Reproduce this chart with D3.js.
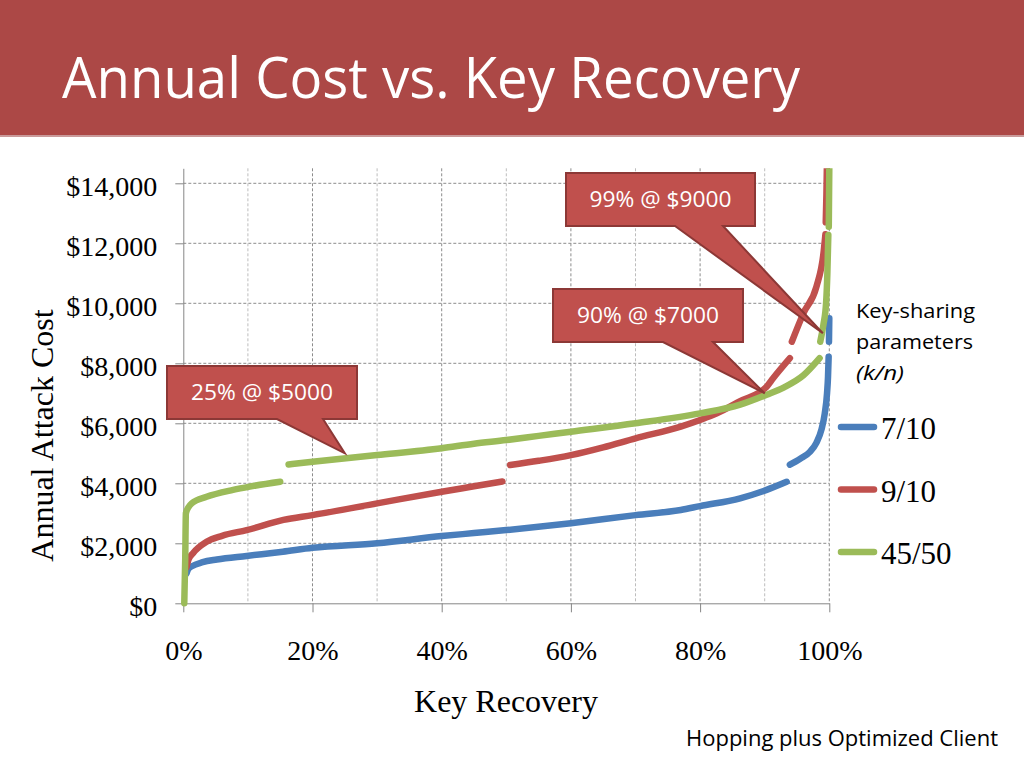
<!DOCTYPE html>
<html><head><meta charset="utf-8">
<script src="https://cdn.jsdelivr.net/npm/d3@7"></script>
<style>body{margin:0;background:#fff;} svg{display:block}</style>
</head><body><svg id="c" width="1024" height="768"></svg>
<script>
// ---------- DATA ----------
const seriesNames  = ["7/10", "9/10", "45/50"];
const seriesColors = ["#4A7EBB", "#C0504D", "#9BBB59"];

// Key recovery (%) and annual attack cost ($); null marks a break in the line
const recovery710 = [0.5,0.8,1.3,3,5.2,9.8,15.4,20,30,40,45,50,60,70,77,80,86.2,90.3,93.4, null, 93.9,95.5,97,98,98.8,99.3,99.65,99.8,99.9, null, 99.95,100];
const cost710     = [1000,1150,1230,1370,1460,1580,1720,1850,2000,2240,2340,2440,2670,2940,3110,3240,3500,3780,4050, null, 4620,4820,5050,5350,5800,6330,7000,7550,8220, null, 8720,9500];

const recovery910 = [0.5,0.8,1.5,3.6,6,9.8,15.5,20,30,40,45,49.4, null, 50.6,55,60,65,70,77,80,82.6,86.2,90.3,91.3,93.9, null, 94.2,96,98,99.1,99.4, null, 99.45,99.55,99.62];
const cost910     = [1200,1450,1670,2050,2250,2440,2780,2940,3330,3720,3900,4060, null, 4610,4750,4940,5200,5500,5890,6110,6330,6740,7220,7500,8170, null, 8720,9670,10550,11670,12300, null, 12700,13600,14500];

const recovery4550 = [0.15,0.3,0.4,0.8,1.3,3.6,7.7,10.3,15, null, 16.3,20,30,40,45,50,55,60,70,80,86.2,90.3,93,96,98.5, null, 98.6,99.1,99.5,99.7,99.85, null, 99.92,100];
const cost4550     = [0,1500,3000,3200,3330,3550,3780,3890,4050, null, 4630,4720,4940,5170,5320,5440,5580,5720,6000,6330,6620,6950,7200,7600,8170, null, 8720,9300,10000,11000,12280, null, 12550,14500];

const yTicks  = [0,2000,4000,6000,8000,10000,12000,14000];
const xTicks  = [0,20,40,60,80,100];
const xMinor  = [10,30,50,70,90];

const calloutLabels   = ["99% @ $9000", "90% @ $7000", "25% @ $5000"];
const calloutRecovery = [99, 90, 25];
const calloutCost     = [9000, 7000, 5000];

const titleText   = "Annual Cost vs. Key Recovery";
const yTitle      = "Annual Attack Cost";
const xTitle      = "Key Recovery";
const legendTitle = ["Key-sharing", "parameters", "(k/n)"];
const footerText  = "Hopping plus Optimized Client";

// ---------- LAYOUT ----------
const calloutBoxes = [ // x0, y0, x1, y1, wedge base left, wedge base right
  [566,173,755,226,675,723],
  [553,289,743,342,663,713],
  [167,366,357,419,277,323]
];
const SANS = "'Open Sans','Noto Sans',sans-serif";
const SERIF = "'Liberation Serif','Times New Roman',serif";

const svg = d3.select("#c");
const x = d3.scaleLinear().domain([0,100]).range([183.3, 829.3]);
const y = d3.scaleLinear().domain([0,14500]).range([603.3, 168.3]);

// header
svg.append("rect").attr("x",0).attr("y",0).attr("width",1024).attr("height",135).attr("fill","#AC4846");
svg.append("rect").attr("x",0).attr("y",135).attr("width",1024).attr("height",2).attr("fill","#C99A9A");
svg.append("text").attr("x",62).attr("y",98).attr("fill","#fff")
  .attr("font-family",SANS).attr("font-size",57)
  .attr("textLength",738).attr("lengthAdjust","spacingAndGlyphs").text(titleText);

// gridlines
const grid = svg.append("g");
grid.selectAll("line.h").data(yTicks.filter(d=>d>0)).join("line")
  .attr("x1",x(0)).attr("x2",x(100)).attr("y1",d=>y(d)).attr("y2",d=>y(d))
  .attr("stroke","#8C8C8C").attr("stroke-width",1).attr("stroke-dasharray","3,2");
grid.selectAll("line.vmin").data(xMinor).join("line")
  .attr("x1",d=>x(d)).attr("x2",d=>x(d)).attr("y1",y(14500)).attr("y2",y(0))
  .attr("stroke","#BDBDBD").attr("stroke-width",1).attr("stroke-dasharray","3,2");
grid.selectAll("line.vmaj").data(xTicks.filter(d=>d>0)).join("line")
  .attr("x1",d=>x(d)).attr("x2",d=>x(d)).attr("y1",y(14500)).attr("y2",y(0))
  .attr("stroke","#8C8C8C").attr("stroke-width",1).attr("stroke-dasharray","3,2");

// axes
const yAxis = svg.append("g").attr("transform",`translate(${x(0)},0)`)
  .call(d3.axisLeft(y).tickValues(yTicks).tickFormat(d=>"$"+d3.format(",")(d)).tickSize(8).tickSizeOuter(0).tickPadding(18));
yAxis.select(".domain").attr("stroke","#868686");
yAxis.selectAll(".tick line").attr("stroke","#868686");
yAxis.selectAll("text").attr("font-family",SERIF).attr("font-size",28).attr("fill","#000").attr("dy","0.42em");

const xAxis = svg.append("g").attr("transform",`translate(0,${y(0)})`)
  .call(d3.axisBottom(x).tickValues(xTicks).tickFormat(d=>d+"%").tickSize(9).tickSizeOuter(0));
xAxis.select(".domain").attr("stroke","#868686");
xAxis.selectAll(".tick line").attr("stroke","#868686");
xAxis.selectAll("text").attr("font-family",SERIF).attr("font-size",28).attr("fill","#000").attr("y",57).attr("dy",0);

// axis titles
svg.append("text").attr("transform",`translate(53,435.5) rotate(-90)`).attr("text-anchor","middle")
  .attr("font-family",SERIF).attr("font-size",32).attr("fill","#000").text(yTitle);
svg.append("text").attr("x",506).attr("y",712).attr("text-anchor","middle")
  .attr("font-family",SERIF).attr("font-size",32).attr("fill","#000").text(xTitle);

// series
const series = [
  {rec:recovery710, cost:cost710},
  {rec:recovery910, cost:cost910},
  {rec:recovery4550, cost:cost4550}
];
svg.append("defs").append("clipPath").attr("id","clip")
  .append("rect").attr("x",0).attr("y",y(14500)).attr("width",1024).attr("height",y(0)-y(14500)+10);
const line = d3.line().defined(d=>d[0]!=null && d[1]!=null).x(d=>x(d[0])).y(d=>y(d[1])).curve(d3.curveMonotoneX);
const lg = svg.append("g").attr("clip-path","url(#clip)");
series.forEach((s,i)=>{
  const pts = s.rec.map((r,j)=>[r, s.cost[j]]);
  lg.append("path").attr("d",line(pts)).attr("fill","none")
    .attr("stroke",seriesColors[i]).attr("stroke-width",6.5)
    .attr("stroke-linecap","round").attr("stroke-linejoin","round");
});

// legend
legendTitle.forEach((t,i)=>{
  svg.append("text").attr("x",856).attr("y",318+i*31)
    .attr("font-family",SANS).attr("font-size",20).attr("fill","#000")
    .attr("font-style", i===2 ? "italic" : "normal")
    .attr("textLength",[119,117,48][i]).attr("lengthAdjust","spacingAndGlyphs").text(t);
});
seriesNames.forEach((n,i)=>{
  const ly = 427 + i*62.5;
  svg.append("line").attr("x1",841).attr("x2",874).attr("y1",ly).attr("y2",ly)
    .attr("stroke",seriesColors[i]).attr("stroke-width",6.5).attr("stroke-linecap","round");
  svg.append("text").attr("x",881).attr("y",ly+12).attr("font-family",SERIF).attr("font-size",31)
    .attr("fill","#000").text(n);
});

// callouts
calloutLabels.forEach((lab,i)=>{
  const [x0,y0,x1,y1,bl,br] = calloutBoxes[i];
  const tx = x(calloutRecovery[i]), ty = y(calloutCost[i]);
  const p = d3.path();
  p.moveTo(x0,y0); p.lineTo(x1,y0); p.lineTo(x1,y1); p.lineTo(br,y1);
  p.lineTo(tx,ty); p.lineTo(bl,y1); p.lineTo(x0,y1); p.closePath();
  svg.append("path").attr("d",p.toString()).attr("fill","#C0504D")
    .attr("stroke","#8C3836").attr("stroke-width",2).attr("stroke-linejoin","miter");
  svg.append("text").attr("x",(x0+x1)/2).attr("y",y0+34).attr("text-anchor","middle")
    .attr("font-family",SANS).attr("font-size",21).attr("fill","#fff")
    .attr("textLength",142).attr("lengthAdjust","spacingAndGlyphs").text(lab);
});

// footer
svg.append("text").attr("x",686).attr("y",746).attr("font-family",SANS).attr("font-size",21)
  .attr("fill","#000").attr("textLength",312).attr("lengthAdjust","spacingAndGlyphs").text(footerText);
</script></body></html>
